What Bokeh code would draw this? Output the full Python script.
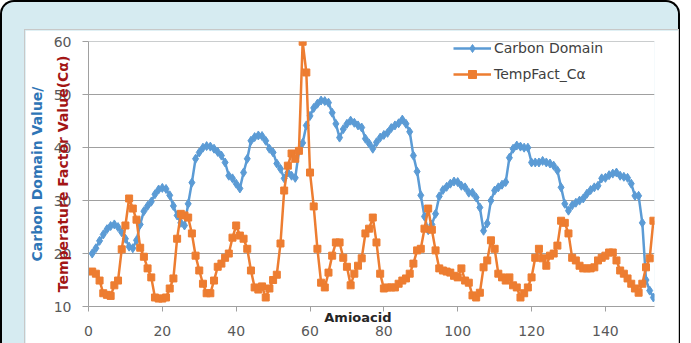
from bokeh.plotting import figure
from bokeh.models import Range1d, FixedTicker, LinearAxis
from bokeh.layouts import column
from bokeh.embed import file_html
from bokeh.resources import INLINE

amino = list(range(1, 154))

carbon_domain = [
    20.0, 21.0, 22.4, 23.6, 24.6, 25.2, 25.5, 25.0, 24.0, 22.8,
    21.3, 21.0, 22.5, 25.5, 28.0, 29.0, 29.8, 31.2, 32.1, 32.4,
    32.2, 31.0, 29.0, 27.2, 25.8, 25.3, 29.4, 33.4, 37.9, 39.1,
    40.0, 40.3, 40.2, 39.8, 39.2, 38.5, 37.2, 34.7, 34.2, 33.2,
    32.3, 35.3, 37.9, 41.3, 42.0, 42.3, 42.2, 41.3, 39.8, 39.1,
    37.0, 36.0, 34.2, 35.3, 34.7, 34.3, 39.4, 40.9, 44.2, 46.0,
    47.5, 48.3, 48.9, 48.8, 48.5, 46.6, 44.5, 41.9, 43.5, 44.5,
    45.1, 44.7, 44.2, 43.8, 41.7, 40.8, 39.8, 41.0, 41.9, 42.4,
    42.8, 43.7, 44.2, 44.6, 45.3, 44.5, 43.0, 38.5, 35.5, 31.0,
    27.0, 24.4, 25.5, 27.5, 30.8, 32.0, 32.6, 33.2, 33.6, 33.5,
    32.8, 32.5, 31.5, 31.5, 30.6, 28.7, 24.3, 25.7, 30.0, 31.9,
    32.5, 33.0, 33.5, 38.1, 39.8, 40.4, 40.2, 40.0, 40.0, 37.2,
    37.2, 37.2, 37.5, 37.2, 37.0, 36.6, 35.7, 32.5, 29.4, 28.1,
    29.1, 29.6, 30.0, 30.4, 31.3, 32.0, 32.5, 32.8, 34.2, 34.3,
    34.8, 35.1, 35.3, 34.7, 34.5, 34.3, 33.2, 30.9, 30.9, 25.8,
    15.0, 13.0, 11.7,
]

temp_fact = [
    16.6, 16.2, 14.9, 12.5, 12.2, 12.0, 14.0, 14.9, 20.8, 25.3,
    30.4, 28.5, 26.4, 21.1, 19.4, 17.2, 15.5, 11.7, 11.5, 11.5,
    11.7, 13.4, 15.3, 22.8, 27.5, 27.2, 26.8, 23.8, 19.6, 16.8,
    14.3, 12.5, 12.5, 14.9, 17.5, 18.1, 19.2, 20.0, 23.0, 25.3,
    23.4, 22.8, 20.9, 16.8, 13.6, 13.2, 13.8, 11.7, 13.4, 15.0,
    16.0, 21.9, 31.9, 36.6, 38.9, 37.9, 39.4, 60.0, 54.2, 35.3,
    28.9, 20.9, 14.5, 13.6, 16.4, 19.6, 22.1, 22.1, 19.2, 17.5,
    14.0, 16.2, 17.7, 19.1, 23.8, 24.7, 26.8, 22.1, 16.2, 13.4,
    13.6, 13.6, 13.6, 14.3, 14.9, 15.3, 16.2, 18.1, 20.6, 20.9,
    24.7, 28.5, 24.5, 20.6, 17.2, 16.8, 16.6, 16.4, 15.8, 15.5,
    17.2, 14.9, 14.5, 12.1, 11.7, 12.6, 17.4, 18.7, 22.5, 20.9,
    16.2, 15.5, 14.9, 15.5, 14.0, 13.6, 11.7, 12.5, 13.6, 15.5,
    19.2, 20.9, 19.1, 17.7, 19.6, 20.0, 21.5, 26.2, 25.8, 23.8,
    19.2, 18.7, 17.7, 17.2, 17.2, 17.2, 17.4, 18.7, 19.2, 19.6,
    20.2, 20.2, 18.7, 16.8, 16.2, 15.3, 14.3, 13.4, 12.6, 14.3,
    17.4, 19.1, 26.2,
]

x_ticks = [0, 20, 40, 60, 80, 100, 120, 140]
y_ticks = [10, 20, 30, 40, 50, 60]

FONT = "DejaVu Sans"
BLUE = "#5b9bd5"
ORANGE = "#ed7d31"
GRID = "#a0a0a0"

p = figure(
    width=653, height=313,
    x_range=Range1d(0, 153.3), y_range=Range1d(10, 60.05),
    output_backend="svg", toolbar_location=None,
    min_border_left=62, min_border_right=24, min_border_top=11, min_border_bottom=37,
    border_fill_color="white", background_fill_color="white",
    outline_line_color=None,
)
p.styles = {"outline": "1px solid #c8c8c8"}

p.xgrid.visible = False
p.ygrid.ticker = FixedTicker(ticks=y_ticks)
p.ygrid.grid_line_color = GRID
p.ygrid.grid_line_width = 1

for ax in (p.xaxis[0], p.yaxis[0]):
    ax.axis_line_color = GRID
    ax.major_tick_line_color = GRID
    ax.minor_tick_line_color = None
    ax.major_tick_in = 0
    ax.major_label_text_font = FONT
    ax.major_label_text_font_size = "14px"
    ax.major_label_text_color = "#595959"

p.xaxis.ticker = FixedTicker(ticks=x_ticks)
p.xaxis.major_tick_out = 5
p.xaxis.major_label_standoff = 14
p.xaxis.axis_label = "Amioacid" + "\u00a0" * 6
p.xaxis.axis_label_standoff = -29
p.xaxis.axis_label_text_font = FONT
p.xaxis.axis_label_text_font_size = "13px"
p.xaxis.axis_label_text_font_style = "bold"
p.xaxis.axis_label_text_color = "#262626"

p.yaxis.ticker = FixedTicker(ticks=y_ticks)
p.yaxis.major_tick_out = 6
p.yaxis.major_label_standoff = 11
p.yaxis.axis_label = "Temperature Factor Value(C\u03b1)"
p.yaxis.axis_label_standoff = -20
p.yaxis.axis_label_text_font = FONT
p.yaxis.axis_label_text_font_size = "14px"
p.yaxis.axis_label_text_font_style = "bold"
p.yaxis.axis_label_text_color = "#a31515"

ax2 = LinearAxis(
    axis_label="Carbon Domain Value/",
    axis_label_standoff=7,
    axis_label_text_font=FONT,
    axis_label_text_font_size="14px",
    axis_label_text_font_style="bold",
    axis_label_text_color="#2e75b6",
    axis_line_color=None,
    major_tick_line_color=None,
    minor_tick_line_color=None,
    major_label_text_font_size="0px",
    major_tick_out=0,
    major_tick_in=0,
    major_label_standoff=0,
)
ax2.ticker = FixedTicker(ticks=[])
p.add_layout(ax2, "left")

p.line(amino, carbon_domain, line_color=BLUE, line_width=2.5, legend_label="Carbon Domain")
p.scatter(amino, carbon_domain, marker="diamond", size=9, fill_color=BLUE, line_color=BLUE,
          legend_label="Carbon Domain")
p.line(amino, temp_fact, line_color=ORANGE, line_width=2.5, legend_label="TempFact_C\u03b1")
p.scatter(amino, temp_fact, marker="square", size=7, fill_color=ORANGE, line_color=ORANGE,
          legend_label="TempFact_C\u03b1")

lg = p.legend[0]
lg.location = (365, 222)
lg.padding = 0
lg.margin = 0
lg.spacing = 6
lg.glyph_width = 38
lg.glyph_height = 20
lg.label_height = 20
lg.label_standoff = 3
lg.border_line_color = None
lg.background_fill_alpha = 0
lg.label_text_font = FONT
lg.label_text_font_size = "14px"
lg.label_text_color = "#404040"

lay = column(p, styles={
    "background-color": "#d6ebf1",
    "border": "2px solid #000000",
    "border-bottom": "none",
    "border-radius": "14px 14px 0 0",
    "padding": "28px 0px 0px 23px",
    "margin-bottom": "-8px",
})

open("out.html", "w").write(file_html(lay, INLINE))
